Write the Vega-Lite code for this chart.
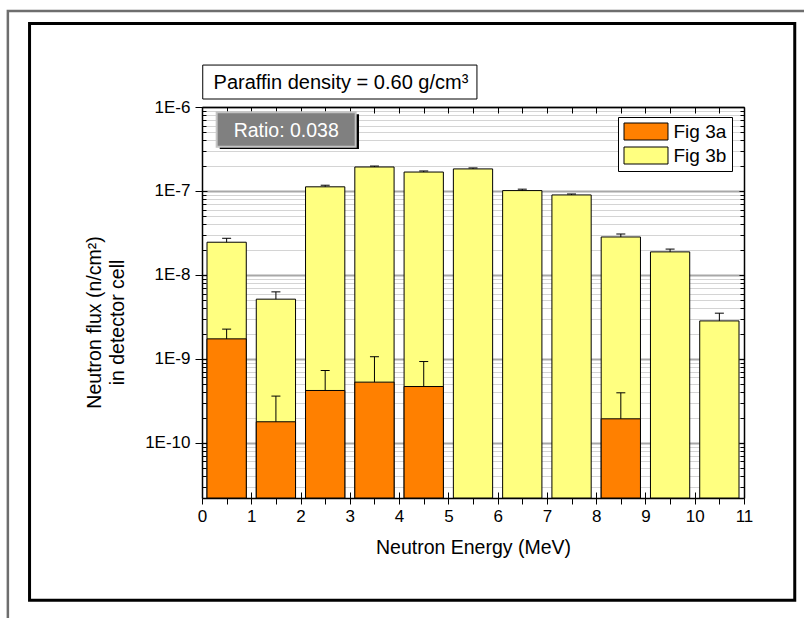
{
  "$schema": "https://vega.github.io/schema/vega-lite/v6.json",
  "width": 542,
  "height": 391,
  "autosize": {"type": "none"},
  "padding": {"left": 202, "top": 107, "right": 60, "bottom": 120},
  "background": "white",
  "config": {
    "font": "Liberation Sans",
    "view": {"stroke": null},
    "axis": {"labelFont": "Liberation Sans", "titleFont": "Liberation Sans", "labelColor": "black", "titleColor": "black", "tickColor": "black", "domainColor": "black", "titleFontWeight": "normal"}
  },
  "datasets": {
    "bars": [
      {"series": "Fig 3b", "e_lo": 0, "e_hi": 1, "e_mid": 0.5, "flux": 2.45e-8, "err_hi": 2.73e-8},
      {"series": "Fig 3b", "e_lo": 1, "e_hi": 2, "e_mid": 1.5, "flux": 5.14e-9, "err_hi": 6.28e-9},
      {"series": "Fig 3b", "e_lo": 2, "e_hi": 3, "e_mid": 2.5, "flux": 1.12e-7, "err_hi": 1.17e-7},
      {"series": "Fig 3b", "e_lo": 3, "e_hi": 4, "e_mid": 3.5, "flux": 1.93e-7, "err_hi": 1.98e-7},
      {"series": "Fig 3b", "e_lo": 4, "e_hi": 5, "e_mid": 4.5, "flux": 1.68e-7, "err_hi": 1.73e-7},
      {"series": "Fig 3b", "e_lo": 5, "e_hi": 6, "e_mid": 5.5, "flux": 1.83e-7, "err_hi": 1.88e-7},
      {"series": "Fig 3b", "e_lo": 6, "e_hi": 7, "e_mid": 6.5, "flux": 1.01e-7, "err_hi": 1.05e-7},
      {"series": "Fig 3b", "e_lo": 7, "e_hi": 8, "e_mid": 7.5, "flux": 8.96e-8, "err_hi": 9.2e-8},
      {"series": "Fig 3b", "e_lo": 8, "e_hi": 9, "e_mid": 8.5, "flux": 2.83e-8, "err_hi": 3.07e-8},
      {"series": "Fig 3b", "e_lo": 9, "e_hi": 10, "e_mid": 9.5, "flux": 1.88e-8, "err_hi": 2.03e-8},
      {"series": "Fig 3b", "e_lo": 10, "e_hi": 11, "e_mid": 10.5, "flux": 2.83e-9, "err_hi": 3.5e-9},
      {"series": "Fig 3a", "e_lo": 0, "e_hi": 1, "e_mid": 0.5, "flux": 1.73e-9, "err_hi": 2.26e-9},
      {"series": "Fig 3a", "e_lo": 1, "e_hi": 2, "e_mid": 1.5, "flux": 1.78e-10, "err_hi": 3.6e-10},
      {"series": "Fig 3a", "e_lo": 2, "e_hi": 3, "e_mid": 2.5, "flux": 4.2e-10, "err_hi": 7.26e-10},
      {"series": "Fig 3a", "e_lo": 3, "e_hi": 4, "e_mid": 3.5, "flux": 5.28e-10, "err_hi": 1.06e-9},
      {"series": "Fig 3a", "e_lo": 4, "e_hi": 5, "e_mid": 4.5, "flux": 4.68e-10, "err_hi": 9.29e-10},
      {"series": "Fig 3a", "e_lo": 8, "e_hi": 9, "e_mid": 8.5, "flux": 1.93e-10, "err_hi": 3.94e-10}
    ]
  },
  "resolve": {"axis": {"x": "independent", "y": "independent"}},
  "layer": [
    {
      "data": {"values": [{}]},
      "mark": {"type": "rect", "filled": false, "stroke": "#6e6e6e", "strokeWidth": 2.5},
      "encoding": {
        "x": {"datum": -3.94, "type": "quantitative", "axis": null},
        "x2": {"datum": 13.5},
        "y": {"datum": 1.39e-5, "type": "quantitative", "axis": null},
        "y2": {"datum": 1e-13}
      }
    },
    {
      "data": {"values": [{}]},
      "mark": {"type": "rect", "filled": false, "stroke": "black", "strokeWidth": 3},
      "encoding": {
        "x": {"datum": -3.50, "type": "quantitative", "axis": null},
        "x2": {"datum": 12.03},
        "y": {"datum": 9.86e-6, "type": "quantitative", "axis": null},
        "y2": {"datum": 1.33e-12}
      }
    },
    {
      "data": {"values": [{}]},
      "mark": {"type": "rect", "fill": "white", "stroke": "black", "strokeWidth": 1},
      "encoding": {
        "x": {"datum": 0.015, "type": "quantitative", "axis": null},
        "x2": {"datum": 5.58},
        "y": {"datum": 3.16e-6, "type": "quantitative", "axis": null},
        "y2": {"datum": 1.245e-6}
      }
    },
    {
      "data": {"values": [{}]},
      "mark": {"type": "text", "text": "Paraffin density = 0.60 g/cm³", "font": "Liberation Sans", "fontSize": 20, "color": "black", "align": "center", "baseline": "alphabetic"},
      "encoding": {
        "x": {"datum": 2.82, "type": "quantitative", "axis": null},
        "y": {"datum": 1.637e-6, "type": "quantitative", "axis": null}
      }
    },
    {
      "data": {"name": "bars"},
      "mark": {"type": "rect", "stroke": "black", "strokeWidth": 1, "opacity": 1, "xOffset": 5, "x2Offset": -5},
      "encoding": {
        "x": {"field": "e_lo", "type": "quantitative",
          "scale": {"domain": [0, 11], "nice": false, "zero": false},
          "axis": {"orient": "bottom", "values": [0,1,2,3,4,5,6,7,8,9,10,11], "format": "d", "tickSize": 6, "tickWidth": 1, "domainWidth": 1.5, "labelFontSize": 17, "labelPadding": 4, "labelFlush": false, "labelOverlap": false, "grid": false, "title": "Neutron Energy (MeV)", "titleFontSize": 19.5, "titlePadding": 14}
        },
        "x2": {"field": "e_hi"},
        "y": {"field": "flux", "type": "quantitative",
          "scale": {"type": "log", "domain": [2.2e-11, 1e-6], "nice": false},
          "axis": {"orient": "left", "values": [1e-10, 1e-9, 1e-8, 1e-7, 1e-6], "labelExpr": "'1E' + round(log(datum.value)/LN10)", "tickSize": 7, "tickWidth": 1, "domainWidth": 1.5, "labelFontSize": 17, "labelPadding": 5, "grid": false,
            "title": ["Neutron flux (n/cm²)", "in detector cell"], "titleFontSize": 19.5, "titleAngle": -90, "titleAlign": "center", "titleBaseline": "alphabetic", "titleX": -102, "titleY": 215, "titleLineHeight": 23}
        },
        "y2": {"datum": 2.2e-11},
        "color": {"field": "series", "type": "nominal",
          "scale": {"domain": ["Fig 3a", "Fig 3b"], "range": ["#ff8000", "#ffff80"]},
          "legend": {"orient": "none", "legendX": 416, "legendY": 10, "title": null,
            "symbolType": "M-2.588,-1L2.588,-1L2.588,1L-2.588,1Z", "symbolSize": 289, "symbolOffset": 13.5,
            "symbolStrokeColor": "black", "symbolStrokeWidth": 1, "symbolOpacity": 1,
            "labelFontSize": 19, "labelFont": "Liberation Sans", "labelColor": "black", "labelOffset": 18,
            "padding": 5, "rowPadding": 3, "fillColor": "white", "strokeColor": "black"}
        }
      }
    },
    {
      "data": {"name": "bars"},
      "mark": {"type": "rule", "color": "black", "strokeWidth": 1},
      "encoding": {
        "x": {"field": "e_mid", "type": "quantitative",
          "axis": {"orient": "bottom", "values": [0,0.5,1,1.5,2,2.5,3,3.5,4,4.5,5,5.5,6,6.5,7,7.5,8,8.5,9,9.5,10,10.5,11], "labels": false, "domain": false, "grid": false, "title": null,
            "tickSize": {"condition": {"test": "datum.value % 1 == 0", "value": -6}, "value": 6}, "tickWidth": 1}
        },
        "y": {"field": "flux", "type": "quantitative",
          "axis": {"orient": "left", "values": [3e-11,4e-11,5e-11,6e-11,7e-11,8e-11,9e-11,1e-10,2e-10,3e-10,4e-10,5e-10,6e-10,7e-10,8e-10,9e-10,1e-9,2e-9,3e-9,4e-9,5e-9,6e-9,7e-9,8e-9,9e-9,1e-8,2e-8,3e-8,4e-8,5e-8,6e-8,7e-8,8e-8,9e-8,1e-7,2e-7,3e-7,4e-7,5e-7,6e-7,7e-7,8e-7,9e-7,1e-6],
            "labels": false, "domain": false, "title": null, "grid": true,
            "tickSize": {"condition": {"test": "abs(log(datum.value)/LN10 - round(log(datum.value)/LN10)) < 0.01", "value": -5}, "value": -4}, "tickWidth": 1,
            "gridColor": {"condition": {"test": "abs(log(datum.value)/LN10 - round(log(datum.value)/LN10)) < 0.01", "value": "#a8a8a8"}, "value": "#d4d4d4"},
            "gridWidth": {"condition": {"test": "abs(log(datum.value)/LN10 - round(log(datum.value)/LN10)) < 0.01", "value": 2}, "value": 1}}
        },
        "y2": {"field": "err_hi"}
      }
    },
    {
      "data": {"name": "bars"},
      "mark": {"type": "tick", "orient": "horizontal", "size": 9, "thickness": 1, "color": "black", "opacity": 1},
      "encoding": {
        "x": {"field": "e_mid", "type": "quantitative",
          "axis": {"orient": "top", "values": [0,0.5,1,1.5,2,2.5,3,3.5,4,4.5,5,5.5,6,6.5,7,7.5,8,8.5,9,9.5,10,10.5,11], "labels": false, "domain": true, "domainWidth": 1.5, "grid": false, "title": null, "tickSize": -6, "tickWidth": 1}
        },
        "y": {"field": "err_hi", "type": "quantitative",
          "axis": {"orient": "right", "values": [3e-11,4e-11,5e-11,6e-11,7e-11,8e-11,9e-11,1e-10,2e-10,3e-10,4e-10,5e-10,6e-10,7e-10,8e-10,9e-10,1e-9,2e-9,3e-9,4e-9,5e-9,6e-9,7e-9,8e-9,9e-9,1e-8,2e-8,3e-8,4e-8,5e-8,6e-8,7e-8,8e-8,9e-8,1e-7,2e-7,3e-7,4e-7,5e-7,6e-7,7e-7,8e-7,9e-7,1e-6],
            "labels": false, "domain": true, "domainWidth": 1.5, "title": null, "grid": false,
            "tickSize": {"condition": {"test": "abs(log(datum.value)/LN10 - round(log(datum.value)/LN10)) < 0.01", "value": -5}, "value": -4}, "tickWidth": 1}
        }
      }
    },
    {
      "data": {"values": [{}]},
      "mark": {"type": "rect", "fill": "black"},
      "encoding": {
        "x": {"datum": 0.36, "type": "quantitative", "axis": null},
        "x2": {"datum": 3.186},
        "y": {"datum": 8.2e-7, "type": "quantitative", "axis": null},
        "y2": {"datum": 3.16e-7}
      }
    },
    {
      "data": {"values": [{}]},
      "mark": {"type": "rect", "fill": "#808080", "stroke": "#c4c4c4", "strokeWidth": 2},
      "encoding": {
        "x": {"datum": 0.298, "type": "quantitative", "axis": null},
        "x2": {"datum": 3.119},
        "y": {"datum": 8.65e-7, "type": "quantitative", "axis": null},
        "y2": {"datum": 3.37e-7}
      }
    },
    {
      "data": {"values": [{}]},
      "mark": {"type": "text", "text": "Ratio: 0.038", "font": "Liberation Sans", "fontSize": 19.5, "color": "white", "align": "center", "baseline": "alphabetic"},
      "encoding": {
        "x": {"datum": 1.709, "type": "quantitative", "axis": null},
        "y": {"datum": 4.43e-7, "type": "quantitative", "axis": null}
      }
    }
  ]
}
